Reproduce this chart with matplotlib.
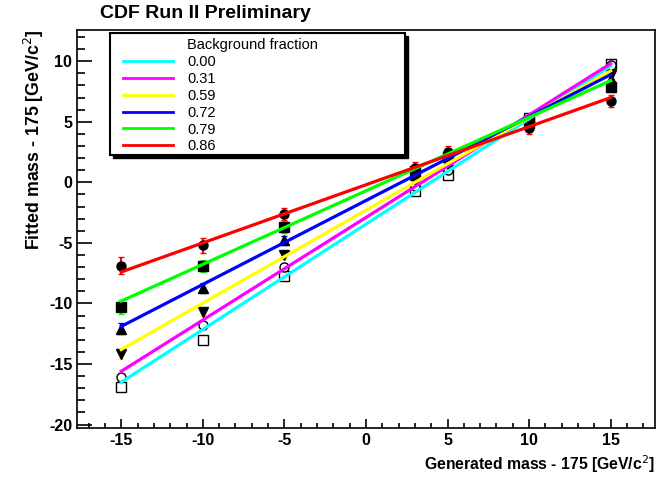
import numpy as np
import matplotlib
matplotlib.use("Agg")
import matplotlib.pyplot as plt
from matplotlib.lines import Line2D
from matplotlib.patches import Rectangle
from matplotlib.ticker import MultipleLocator

plt.rcParams["font.family"] = ["Liberation Sans", "DejaVu Sans"]
plt.rcParams["axes.unicode_minus"] = False

# Generated mass - 175 (same for every sample)
gen_mass = [-15, -10, -5, 3, 5, 10, 15]

fractions = ["0.00", "0.31", "0.59", "0.72", "0.79", "0.86"]
colors = ["#00ffff", "#ff00ff", "#ffff00", "#0000ff", "#00ff00", "#ff0000"]

# Fitted mass - 175 for each background fraction
fit_000 = [-16.9, -13.0, -7.7, -0.7, 0.6, 5.3, 9.8]
fit_031 = [-16.1, -11.8, -7.0, -0.3, 1.0, 5.2, 9.7]
fit_059 = [-14.2, -10.7, -6.0, 0.2, 1.4, 5.0, 8.9]
fit_072 = [-12.1, -8.7, -4.8, 0.6, 1.8, 5.0, 8.5]
fit_079 = [-10.3, -6.9, -3.7, 0.9, 2.1, 4.9, 7.9]
fit_086 = [-6.9, -5.2, -2.6, 1.2, 2.5, 4.5, 6.7]

# error on the fitted mass
err_000 = [0.3, 0.3, 0.3, 0.3, 0.3, 0.3, 0.3]
err_031 = [0.3, 0.3, 0.3, 0.3, 0.3, 0.3, 0.3]
err_059 = [0.35, 0.35, 0.35, 0.35, 0.35, 0.35, 0.35]
err_072 = [0.45, 0.4, 0.4, 0.4, 0.4, 0.4, 0.4]
err_079 = [0.6, 0.5, 0.5, 0.45, 0.45, 0.45, 0.45]
err_086 = [0.7, 0.6, 0.5, 0.5, 0.5, 0.5, 0.5]

# straight-line fits (slope, intercept)
slopes = [0.87, 0.847, 0.767, 0.693, 0.607, 0.48]
intercepts = [-3.45, -2.9, -2.3, -1.5, -0.7, -0.2]

fits = [fit_000, fit_031, fit_059, fit_072, fit_079, fit_086]
errs = [err_000, err_031, err_059, err_072, err_079, err_086]
markers = [("s", "white"), ("o", "white"), ("v", "black"),
           ("^", "black"), ("s", "black"), ("o", "black")]

fig = plt.figure(figsize=(6.6, 4.8), dpi=100)
ax = fig.add_axes([0.117, 0.108, 0.875, 0.83])

for y, e, c, (m, fc) in zip(fits, errs, colors, markers):
    ax.errorbar(gen_mass, y, yerr=e, fmt=m, mfc=fc, mec="black", mew=1.0,
                ms=6.5, ecolor=c, elinewidth=1.5, capsize=2.5, capthick=1.5,
                zorder=2)

xfit = np.array([-15, 15])
for s, b, c in zip(slopes, intercepts, colors):
    ax.plot(xfit, s * xfit + b, color=c, lw=2.3, zorder=3)

ax.set_xlim(-17.7, 17.7)
ax.set_ylim(-20.3, 12.6)
ax.xaxis.set_major_locator(MultipleLocator(5))
ax.xaxis.set_minor_locator(MultipleLocator(1))
ax.yaxis.set_major_locator(MultipleLocator(5))
ax.yaxis.set_minor_locator(MultipleLocator(1))
ax.tick_params(which="both", direction="in", width=1.2, labelsize=11.5)
ax.tick_params(axis="x", which="major", length=6.5)
ax.tick_params(axis="x", which="minor", length=3.6)
ax.tick_params(axis="y", which="major", length=11)
ax.tick_params(axis="y", which="minor", length=6)
for lab in ax.get_xticklabels() + ax.get_yticklabels():
    lab.set_fontweight("bold")
for sp in ax.spines.values():
    sp.set_linewidth(1.2)

ax.set_xlabel("Generated mass - 175 [GeV/c$^2$]", fontsize=11.3,
              fontweight="bold", loc="right")
ax.set_ylabel("Fitted mass - 175 [GeV/c$^2$]", fontsize=12.8,
              fontweight="bold", loc="top", labelpad=2)

fig.text(0.152, 0.972, "CDF Run II Preliminary", fontsize=14,
         fontweight="bold", va="center")

# legend box with a solid drop shadow
bx, by, bw, bh = 110 / 660, 1 - 155 / 480, 295 / 660, 122 / 480
fig.patches.append(Rectangle((bx + 3 / 660, by - 3 / 480), bw, bh,
                             transform=fig.transFigure, fc="black",
                             ec="black", zorder=4))
fig.patches.append(Rectangle((bx, by), bw, bh, transform=fig.transFigure,
                             fc="white", ec="black", lw=1.5, zorder=5))

handles = [Line2D([], [], color="none", label="Background fraction")]
for f, c in zip(fractions, colors):
    handles.append(Line2D([], [], color=c, lw=2, label=f))
leg = fig.legend(handles=handles, loc="upper left",
                 bbox_to_anchor=(123 / 660, 1 - 38 / 480),
                 bbox_transform=fig.transFigure, fontsize=10.5,
                 handlelength=3.4, handletextpad=1.0, labelspacing=0.2,
                 borderpad=0, borderaxespad=0, frameon=False)
leg.set_zorder(6)

fig.savefig("out.png", dpi=100)
